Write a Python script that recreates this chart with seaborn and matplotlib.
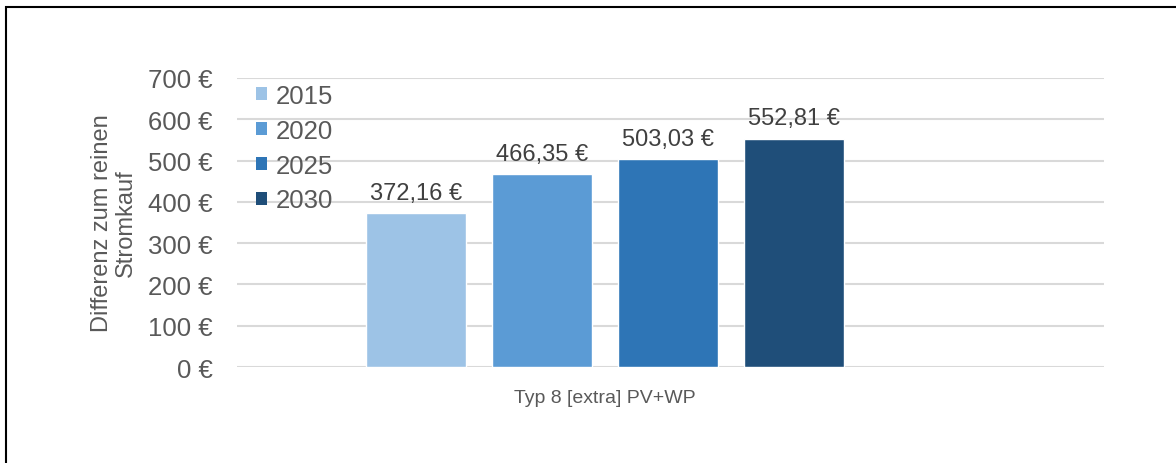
import matplotlib
matplotlib.use("Agg")
import matplotlib.pyplot as plt
import seaborn as sns
import pandas as pd
from matplotlib.patches import Rectangle, Patch

categories = ["Typ 8 [extra] PV+WP"]
years = ["2015", "2020", "2025", "2030"]
values = [372.16, 466.35, 503.03, 552.81]
colors = ["#9DC3E6", "#5B9BD5", "#2E75B6", "#1F4E79"]
yticks = [0, 100, 200, 300, 400, 500, 600, 700]

df = pd.DataFrame({"cat": categories * len(years), "year": years, "value": values})

sns.set_theme(style="white")
plt.rcParams["font.family"] = ["Liberation Sans", "DejaVu Sans"]

txt = "#595959"
fig = plt.figure(figsize=(11.76, 4.64), dpi=100)
ax = fig.add_axes([237 / 1176, 1 - 368 / 464, (1104 - 237) / 1176, (368 - 79) / 464])

sns.barplot(data=df, x="cat", y="value", hue="year", palette=colors,
            width=0.8, gap=0.21, ax=ax, legend=False, saturation=1)

ax.set_xlim(-0.584, 0.792)
ax.set_ylim(0, 700)
ax.set_yticks(yticks)
ax.set_yticklabels([f"{v} €" for v in yticks], fontsize=18.5, color=txt)
ax.yaxis.grid(True, color="#D9D9D9", linewidth=1.5)
ax.set_axisbelow(True)
for s in ax.spines.values():
    s.set_visible(False)
ax.tick_params(axis="both", length=0)
ax.tick_params(axis="y", pad=17.5)
ax.tick_params(axis="x", pad=16)
ax.set_xticks([0])
ax.set_xticklabels(categories, fontsize=14, color=txt)
ax.set_xlabel("")
ax.set_ylabel("Differenz zum reinen\nStromkauf", fontsize=17, color=txt,
              labelpad=8, linespacing=1.1)

for cont in ax.containers:
    ax.bar_label(cont, labels=[f"{v:.2f} €".replace(".", ",") for v in cont.datavalues],
                 padding=7, fontsize=17, color="#404040")

handles = [Patch(facecolor=c, edgecolor="none") for c in colors]
ax.legend(handles, years, loc="upper left", bbox_to_anchor=(256 / 1176, 1 - 85 / 464),
          bbox_transform=fig.transFigure, frameon=False, fontsize=18.5,
          handlelength=0.42, handleheight=0.42, handletextpad=0.35,
          labelspacing=0.42, borderaxespad=0, borderpad=0, labelcolor=txt)

fig.patches.append(Rectangle((6 / 1176, -0.1), 1.2, 1 - 8 / 464 + 0.1,
                             transform=fig.transFigure, fill=False,
                             edgecolor="black", linewidth=1.5))

fig.savefig("out.png", dpi=100)
